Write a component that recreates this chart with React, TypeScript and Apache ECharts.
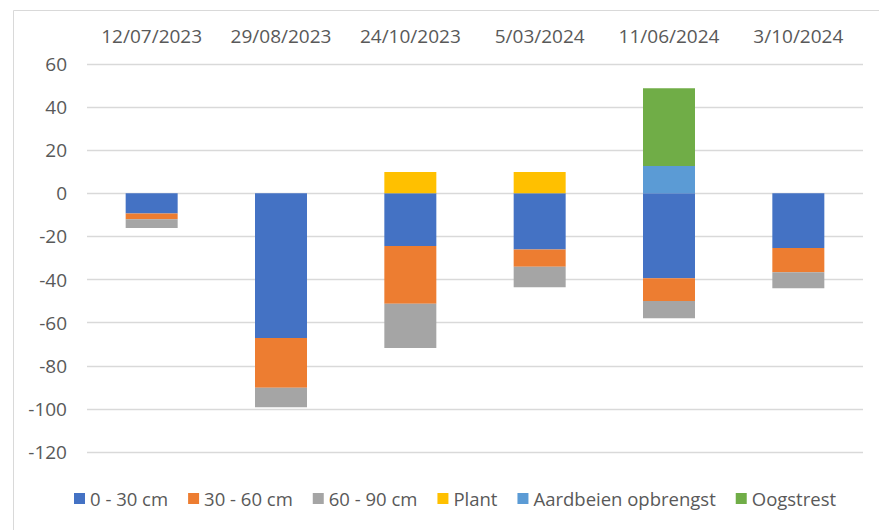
import React, { useEffect, useRef } from "react";
import * as echarts from "echarts";

const categories = ["12/07/2023", "29/08/2023", "24/10/2023", "5/03/2024", "11/06/2024", "3/10/2024"];
const seriesNames = ["0 - 30 cm", "30 - 60 cm", "60 - 90 cm", "Plant", "Aardbeien opbrengst", "Oogstrest"];
const depth0to30 = [-9.3, -67.1, -24.4, -26.0, -39.4, -25.4];
const depth30to60 = [-2.7, -23.1, -26.8, -8.1, -10.5, -11.2];
const depth60to90 = [-4.1, -9.0, -20.6, -9.5, -8.0, -7.4];
const plant = [0, 0, 9.9, 9.9, 0, 0];
const aardbeien = [0, 0, 0, 0, 12.7, 0];
const oogstrest = [0, 0, 0, 0, 36.0, 0];
const colors = ["#4472C4", "#ED7D31", "#A5A5A5", "#FFC000", "#5B9BD5", "#70AD47"];

const seriesData = [depth0to30, depth30to60, depth60to90, plant, aardbeien, oogstrest];

export default function App() {
  const ref = useRef<HTMLDivElement>(null);
  useEffect(() => {
    if (!ref.current) return;
    const chart = echarts.init(ref.current, undefined, { renderer: "svg" });
    const font = "'Open Sans', sans-serif";
    chart.setOption({
      animation: false,
      color: colors,
      textStyle: { fontFamily: font },
      graphic: [
        {
          type: "rect",
          left: 11,
          top: 8,
          shape: { width: 900, height: 600 },
          style: { fill: "none", stroke: "#d9d9d9", lineWidth: 1 },
          silent: true,
        },
      ],
      grid: { left: 87, right: 16, top: 64, bottom: 78, containLabel: false },
      legend: {
        left: 69,
        top: 484,
        itemWidth: 11,
        itemHeight: 11,
        itemGap: 20,
        icon: "rect",
        textStyle: { fontSize: 18.5, color: "#595959", fontFamily: font },
        data: seriesNames,
      },
      xAxis: {
        type: "category",
        position: "top",
        data: categories,
        axisLine: { show: false },
        axisTick: { show: false },
        axisLabel: { interval: 0, fontSize: 19, color: "#595959", margin: 19, fontFamily: font },
      },
      yAxis: {
        type: "value",
        min: -120,
        max: 60,
        interval: 20,
        axisLine: { show: false },
        axisTick: { show: false },
        axisLabel: { fontSize: 19, color: "#595959", margin: 20, fontFamily: font },
        splitLine: { lineStyle: { color: "#d9d9d9", width: 1.3 } },
      },
      series: seriesNames.map((name, i) => ({
        name,
        type: "bar",
        stack: "total",
        barWidth: 52,
        data: seriesData[i],
        itemStyle: { color: colors[i] },
      })),
    });
    return () => chart.dispose();
  }, []);
  return (
    <div
      ref={ref}
      style={{ position: "fixed", left: 0, top: 0, width: 879, height: 530, background: "#fff" }}
    />
  );
}
